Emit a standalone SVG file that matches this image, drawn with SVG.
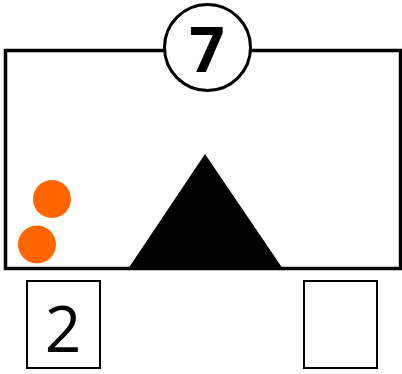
<svg xmlns="http://www.w3.org/2000/svg" width="402" height="374" viewBox="0 0 402 374">
<style>
.ln{fill:none;stroke:#000;stroke-width:3.5}
.bx{fill:#fff;stroke:#000;stroke-width:2}
.t{font-family:"Open Sans","Liberation Sans",sans-serif;fill:#000;text-anchor:middle}
.ball{fill:#ff6600}
</style>
<rect width="402" height="374" fill="#fff"/>
<g id="frame"><rect class="ln" x="5.5" y="50.5" width="395" height="218"/></g>
<g id="triangle"><polygon points="205,154 128,269 283,269" fill="#000"/></g>
<g id="balls">
<circle class="ball" cx="52" cy="199" r="19"/>
<circle class="ball" cx="37" cy="244.5" r="19"/>
</g>
<g id="badge">
<circle cx="207.5" cy="47.5" r="43" fill="#fff" stroke="#000" stroke-width="3"/>
<text class="t" x="207" y="72" font-size="62" font-weight="bold">7</text>
</g>
<g id="box1"><rect class="bx" x="27" y="281" width="73" height="87"/><text class="t" x="63" y="352" font-size="64">2</text></g>
<g id="box2"><rect class="bx" x="304" y="281" width="73" height="87"/></g>
</svg>
